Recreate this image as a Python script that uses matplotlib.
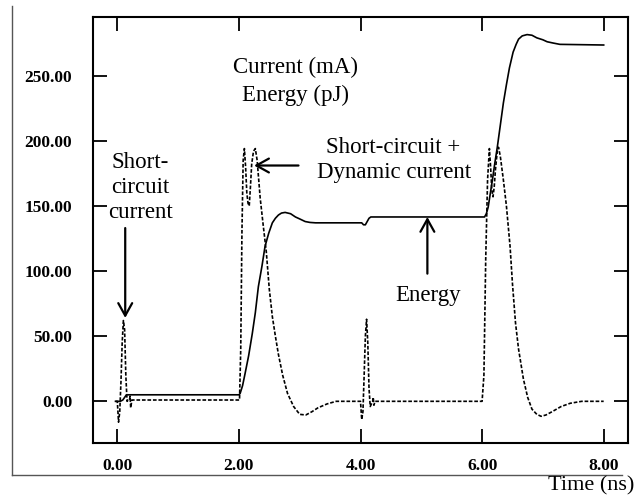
import matplotlib
matplotlib.use('Agg')
import matplotlib.pyplot as plt
from matplotlib.lines import Line2D

plt.rcParams['font.family'] = ['Liberation Serif', 'DejaVu Serif']

# Energy (pJ) - solid line
t_energy = [-0.03, 0.05, 0.09, 0.12, 0.15,
            2.0, 2.02, 2.06, 2.1, 2.16,
            2.22, 2.27, 2.32, 2.38, 2.43,
            2.49, 2.55, 2.6, 2.65, 2.7,
            2.76, 2.85, 2.93, 3.0, 3.09,
            3.17, 3.26, 4.02, 4.05, 4.08,
            4.11, 4.14, 4.17, 6.04, 6.07,
            6.1, 6.13, 6.17, 6.21, 6.25,
            6.3, 6.35, 6.4, 6.45, 6.51,
            6.56, 6.6, 6.66, 6.74, 6.82,
            6.9, 7.0, 7.07, 7.17, 7.28,
            8.0]
energy = [0, 0, 1, 3, 5,
          5, 6, 12, 21, 35,
          52, 68, 88, 104, 119,
          129, 137, 140.5, 143, 144.5,
          145, 144, 141.5, 140, 138,
          137.3, 137, 137, 135.5, 135.5,
          138, 140.5, 141.5, 141.5, 144,
          149, 158, 170, 183, 195,
          212, 229, 243, 256, 268,
          274, 278, 280.5, 281.5, 281,
          279, 277.5, 276, 275, 274,
          273.5]

# Current (mA) - dashed line
t_current = [-0.03, 0.0, 0.02, 0.04, 0.06,
             0.08, 0.1, 0.12, 0.14, 0.16,
             0.18, 0.2, 0.21, 0.22, 0.24,
             2.01, 2.03, 2.05, 2.07, 2.09,
             2.11, 2.13, 2.15, 2.17, 2.19,
             2.21, 2.24, 2.27, 2.3, 2.35,
             2.4, 2.45, 2.5, 2.55, 2.6,
             2.65, 2.72, 2.8, 2.9, 3.0,
             3.1, 3.2, 3.3, 3.45, 3.6,
             4.0, 4.02, 4.04, 4.06, 4.08,
             4.1, 4.12, 4.14, 4.16, 4.18,
             4.2, 4.21, 4.22, 4.24, 6.0,
             6.03, 6.06, 6.09, 6.12, 6.14,
             6.16, 6.18, 6.2, 6.22, 6.25,
             6.27, 6.3, 6.35, 6.4, 6.46,
             6.5, 6.55, 6.6, 6.68, 6.75,
             6.82, 6.9, 6.97, 7.05, 7.15,
             7.3, 7.45, 7.64, 8.0]
current = [0, 0, -16, -8, 15,
           45, 62, 55, 20, 0,
           1, 1, 4, -5, 1,
           1, 40, 130, 185, 194,
           180, 160, 152, 150, 165,
           182, 192, 194, 185, 156,
           135, 115, 86, 65, 50,
           36, 20, 6, -4, -10,
           -10.5, -8, -5, -2, 0,
           0, -14, -8, 20, 50,
           63, 45, 10, -4, -2,
           0, 3, -3, 0, 0,
           20, 110, 170, 194, 180,
           162, 157, 165, 178, 192,
           195, 188, 170, 150, 119,
           90, 60, 40, 17, 3,
           -6, -10, -11.5, -10.5, -8,
           -4, -1.5, 0, 0]

x_ticks = [0, 2, 4, 6, 8]
y_ticks = [0, 50, 100, 150, 200, 250]

fig = plt.figure(figsize=(6.35, 4.96), dpi=100)
ax = fig.add_axes([93 / 635, 53 / 496, 535 / 635, 426 / 496])

ax.plot(t_energy, energy, color='black', lw=1.2)
ax.plot(t_current, current, color='black', lw=1.2, linestyle=(0, (2.2, 1.1)))

ax.set_xlim(-0.4, 8.4)
ax.set_ylim(-32, 295)
ax.set_xticks(x_ticks)
ax.set_yticks(y_ticks)
ax.set_xticklabels(['%.2f' % v for v in x_ticks])
ax.set_yticklabels(['%.2f' % v for v in y_ticks])
ax.tick_params(direction='in', top=True, right=True, length=10, width=1.3)
ax.tick_params(axis='y', pad=15)
ax.tick_params(axis='x', pad=11)
for lab in ax.get_xticklabels() + ax.get_yticklabels():
    lab.set_fontsize(12.5)
    lab.set_fontweight('bold')
for sp in ax.spines.values():
    sp.set_linewidth(1.5)

# annotations
txt = dict(fontsize=16.5, ha='center', va='center')
ax.text(2.93, 256, 'Current (mA)', **txt)
ax.text(2.93, 235, 'Energy (pJ)', **txt)
ax.text(4.53, 195, 'Short-circuit +', **txt)
ax.text(4.55, 176, 'Dynamic current', **txt)
ax.text(0.38, 183, 'Short-', **txt)
ax.text(0.38, 164, 'circuit', **txt)
ax.text(0.38, 145, 'current', **txt)
ax.text(5.11, 81, 'Energy', **txt)

arrow = dict(arrowstyle='->,head_length=0.45,head_width=0.25', lw=1.6,
             color='black', mutation_scale=20, shrinkA=0, shrinkB=0)
ax.annotate('', xy=(0.13, 64), xytext=(0.13, 133), arrowprops=arrow)
ax.annotate('', xy=(2.25, 181), xytext=(2.98, 181), arrowprops=arrow)
ax.annotate('', xy=(5.1, 141.5), xytext=(5.1, 98), arrowprops=arrow)

fig.text(591 / 635, 1 - 486 / 496, 'Time (ns)', fontsize=16, ha='center', va='center')

# outer frame of the scanned figure
fig.add_artist(Line2D([12 / 635, 12 / 635], [1 - 6 / 496, 1 - 475 / 496],
                      transform=fig.transFigure, color='#555555', lw=1.0))
fig.add_artist(Line2D([12 / 635, 622 / 635], [1 - 475 / 496, 1 - 475 / 496],
                      transform=fig.transFigure, color='#555555', lw=1.0))

fig.savefig('out.png', dpi=100)
